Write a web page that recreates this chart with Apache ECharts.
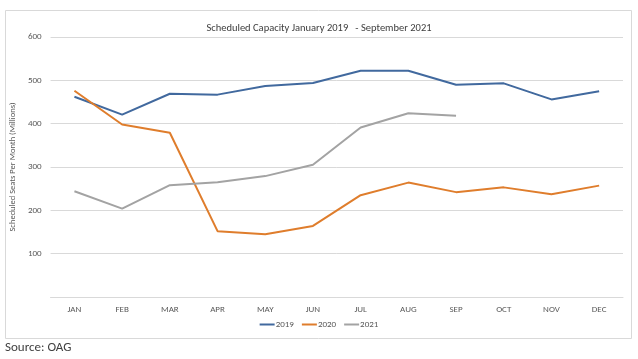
<!DOCTYPE html>
<html><head><meta charset="utf-8">
<script src="https://cdn.jsdelivr.net/npm/echarts@6/dist/echarts.min.js"></script>
<style>html,body{margin:0;padding:0;background:#fff}#c{width:638px;height:359px}</style>
</head><body><div id="c"></div>
<script>
const months = ['JAN','FEB','MAR','APR','MAY','JUN','JUL','AUG','SEP','OCT','NOV','DEC'];
const s2019 = [462, 421, 469, 467, 487, 494, 522, 522, 490, 493, 456, 475];
const s2020 = [476, 398, 379, 152, 145, 164, 235, 264, 242, 253, 237, 257];
const s2021 = [244, 204, 258, 265, 279, 305, 391, 424, 418];
const yTicks = [100, 200, 300, 400, 500, 600];

const chart = echarts.init(document.getElementById('c'), null, {renderer:'canvas'});
const font = 'Calibri, Carlito, "Open Sans", "Noto Sans", sans-serif';
const mk = (name, data, color) => ({
  name, type:'line', data, symbol:'none', smooth:false,
  lineStyle:{color, width:2}, itemStyle:{color}
});
chart.setOption({
  backgroundColor:'#fff',
  animation:false,
  title:{text:'Scheduled Capacity January 2019   - September 2021', left:'center', top:18,
    textStyle:{fontFamily:font, fontSize:10.5, fontWeight:'normal', color:'#404040'}},
  legend:{bottom:25, left:'center', itemWidth:15, itemHeight:2, itemGap:8,
    icon:'rect',
    textStyle:{fontFamily:font, fontSize:9, color:'#595959', padding:[0,0,0,-4]},
    data:['2019','2020','2021']},
  grid:{left:49, right:15, top:37, bottom:62, containLabel:false},
  xAxis:{type:'category', data:months, boundaryGap:true,
    axisLine:{lineStyle:{color:'#d9d9d9'}}, axisTick:{show:false},
    axisLabel:{fontFamily:font, fontSize:9, color:'#595959', margin:8}},
  yAxis:{type:'value', min:0, max:600, interval:100,
    name:'Scheduled Seats Per Month (Millions)', nameLocation:'middle', nameGap:22,
    nameTextStyle:{fontFamily:font, fontSize:8.5, color:'#595959'},
    axisLine:{show:false}, axisTick:{show:false},
    splitLine:{lineStyle:{color:'#d9d9d9'}},
    axisLabel:{fontFamily:font, fontSize:9, color:'#595959', margin:9,
      formatter:v => yTicks.includes(v) ? String(v) : ''}},
  graphic:[
    {type:'rect', shape:{x:5.5, y:10.5, width:626, height:328}, style:{fill:'none', stroke:'#d9d9d9', lineWidth:1}, z:-1},
    {type:'text', left:5, top:341, style:{text:'Source: OAG', fontFamily:font, fontSize:13, fill:'#404040'}}
  ],
  series:[mk('2019', s2019, '#41699E'), mk('2020', s2020, '#DF7D2C'), mk('2021', s2021, '#A3A3A3')]
});
</script></body></html>
